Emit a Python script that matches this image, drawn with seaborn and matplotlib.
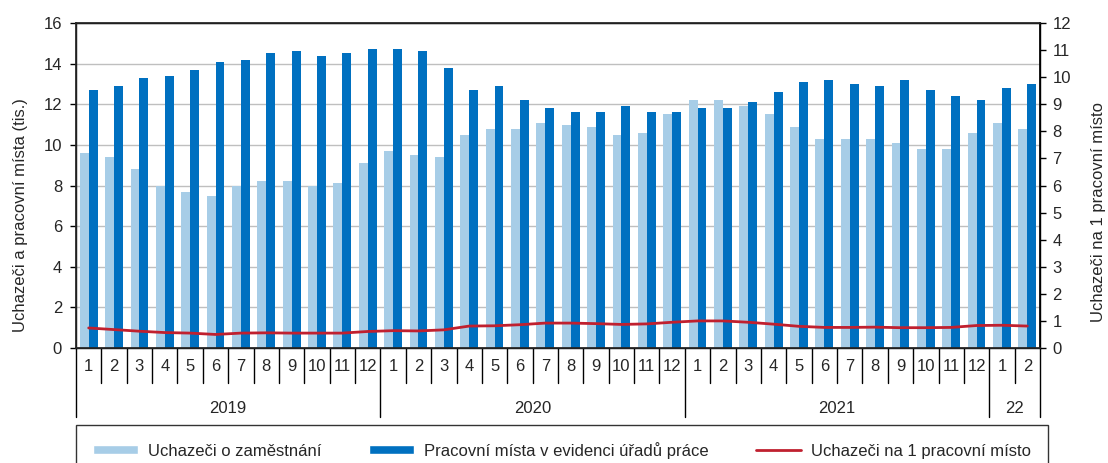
import numpy as np
import pandas as pd
import matplotlib
matplotlib.use("Agg")
import matplotlib.pyplot as plt
import seaborn as sns
from matplotlib.patches import Patch
from matplotlib.lines import Line2D

# --- data ---
years = ["2019", "2020", "2021", "22"]
months_per_year = [12, 12, 12, 2]
month_labels = [str(m) for n in months_per_year for m in range(1, n + 1)]

uchazeci = [9.6, 9.4, 8.8, 8.0, 7.7, 7.5, 8.0, 8.2, 8.2, 8.0, 8.1, 9.1,
            9.7, 9.5, 9.4, 10.5, 10.8, 10.8, 11.1, 11.0, 10.9, 10.5, 10.6, 11.5,
            12.2, 12.2, 11.9, 11.5, 10.9, 10.3, 10.3, 10.3, 10.1, 9.8, 9.8, 10.6,
            11.1, 10.8]
mista = [12.7, 12.9, 13.3, 13.4, 13.7, 14.1, 14.2, 14.5, 14.6, 14.4, 14.5, 14.7,
         14.7, 14.6, 13.8, 12.7, 12.9, 12.2, 11.8, 11.6, 11.6, 11.9, 11.6, 11.6,
         11.8, 11.8, 12.1, 12.6, 13.1, 13.2, 13.0, 12.9, 13.2, 12.7, 12.4, 12.2,
         12.8, 13.0]
na_misto = [0.74, 0.68, 0.62, 0.57, 0.55, 0.50, 0.55, 0.56, 0.55, 0.55, 0.55, 0.61,
            0.64, 0.63, 0.67, 0.81, 0.82, 0.86, 0.92, 0.92, 0.90, 0.87, 0.89, 0.95,
            1.00, 1.00, 0.95, 0.88, 0.80, 0.76, 0.76, 0.77, 0.75, 0.75, 0.76, 0.83,
            0.84, 0.81]

lbl_u = "Uchazeči o zaměstnání"
lbl_m = "Pracovní místa v evidenci úřadů práce"
lbl_r = "Uchazeči na 1 pracovní místo"

c_light = "#A7CDE7"
c_dark = "#0070C0"
c_red = "#C0202F"
fs = 12

n = len(month_labels)
idx = np.arange(n)

df = pd.DataFrame({
    "pos": np.concatenate([idx, idx]),
    "value": uchazeci + mista,
    "series": [lbl_u] * n + [lbl_m] * n,
})

sns.set_theme(style="white")
plt.rcParams["font.family"] = ["Liberation Sans", "DejaVu Sans"]

fig = plt.figure(figsize=(11.08, 4.63), dpi=100)
ax = fig.add_axes([76 / 1108, 1 - 348 / 463, (1040 - 76) / 1108, 325 / 463])

sns.barplot(data=df, x="pos", y="value", hue="series", hue_order=[lbl_u, lbl_m],
            palette=[c_light, c_dark], width=0.70, gap=0, saturation=1,
            linewidth=0, legend=False, ax=ax)
ax.set_xlim(-0.5, n - 0.5)
ax.set_ylim(0, 16)
ax.set_yticks(range(0, 17, 2))
ax.yaxis.grid(True, color="#BFBFBF", linewidth=1)
ax.set_axisbelow(True)
ax.set_xticks([])
ax.set_xlabel("")
ax.set_ylabel("Uchazeči a pracovní místa (tis.)", fontsize=fs)
ax.yaxis.set_label_coords(-0.050, 0.41)
ax.tick_params(axis="y", left=True, length=4, width=1, labelsize=fs, pad=6, color="black")
for s in ax.spines.values():
    s.set_color("black")
    s.set_linewidth(1)

ax2 = ax.twinx()
sns.lineplot(x=idx, y=na_misto, color=c_red, linewidth=2, ax=ax2)
ax2.set_ylim(0, 12)
ax2.set_yticks(range(0, 13))
ax2.set_ylabel(lbl_r, fontsize=fs)
ax2.yaxis.set_label_coords(1.053, 0.42)
ax2.tick_params(axis="y", right=True, length=4, width=1, labelsize=fs, pad=5, color="black")
ax2.spines["right"].set_color("black")
ax2.set_xlim(-0.5, n - 0.5)

# month labels and separators below the axis
trans = ax.get_xaxis_transform()
for i, m in enumerate(month_labels):
    ax.text(i, -0.058, m, transform=trans, ha="center", va="center", fontsize=fs)
year_edges = np.cumsum([0] + months_per_year) - 0.5
for x in np.arange(n + 1) - 0.5:
    depth = -0.212 if x in year_edges else -0.108
    ax.plot([x, x], [0, depth], transform=trans, color="black", lw=1, clip_on=False)
for k, y in enumerate(years):
    mid = (year_edges[k] + year_edges[k + 1]) / 2
    ax.text(mid, -0.185, y, transform=trans, ha="center", va="center", fontsize=fs)

handles = [Patch(facecolor=c_light, label=lbl_u),
           Patch(facecolor=c_dark, label=lbl_m),
           Line2D([], [], color=c_red, lw=2, label=lbl_r)]
leg = fig.legend(handles=handles, loc="upper left", ncol=3, mode="expand",
                 bbox_to_anchor=(76 / 1108, 1 - 425 / 463, (1048 - 76) / 1108, 0),
                 borderaxespad=0, frameon=True, fancybox=False, edgecolor="black",
                 fontsize=fs, handlelength=2.7, handleheight=0.5, borderpad=1.0,
                 columnspacing=1.0, handletextpad=0.6)
leg.get_frame().set_linewidth(1)

fig.savefig("out.png", dpi=100)
